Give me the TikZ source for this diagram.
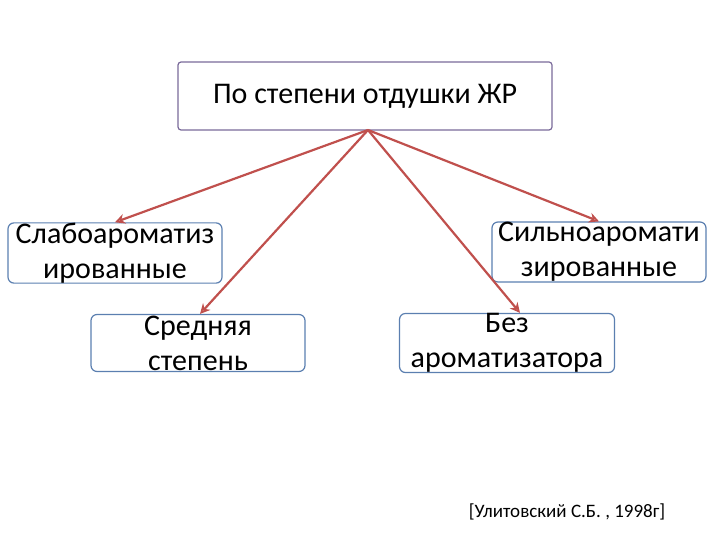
\documentclass[tikz,border=0pt]{standalone}
\usepackage{fontspec}
\setmainfont{Carlito}
\usetikzlibrary{arrows.meta}
\definecolor{arrc}{HTML}{C0504D}
\definecolor{boxc}{HTML}{5B7FB0}
\definecolor{topc}{HTML}{7A6A9A}
\begin{document}
\begin{tikzpicture}[x=1pt,y=-1pt,
  box/.style={draw=boxc,line width=1.2pt,rounded corners=6pt,align=center,font=\fontsize{30}{35}\selectfont,inner sep=0pt},
  arr/.style={draw=arrc,line width=2.2pt,-{Stealth[length=10pt,width=10pt,open]}}]
\useasboundingbox (0,0) rectangle (720,540);
\node[draw=topc,line width=1.2pt,rounded corners=3pt,minimum width=374pt,minimum height=68pt,font=\fontsize{30}{35}\selectfont] (top) at (365,96) {По степени отдушки ЖР};
\node[box,minimum width=214pt,minimum height=57pt] (a) at (115,253) {Слабоароматиз\\ированные};
\node[box,minimum width=214pt,minimum height=57pt] (b) at (198,343) {Средняя\\степень};
\node[box,minimum width=215pt,minimum height=57pt] (c) at (507,343) {Без\\ароматизатора};
\node[box,minimum width=214pt,minimum height=60pt] (d) at (599,252) {Сильноаромати\\зированные};
\coordinate (o) at (368,130);
\draw[arr] (o) -- (a.north);
\draw[arr] (o) -- ([xshift=2pt]b.north);
\draw[arr] (o) -- ([xshift=13pt]c.north);
\draw[arr] (o) -- (d.north);
\node[font=\fontsize{19}{22}\selectfont] (ref) at (567,512) {[Улитовский С.Б. , 1998г]};
\end{tikzpicture}
\end{document}
